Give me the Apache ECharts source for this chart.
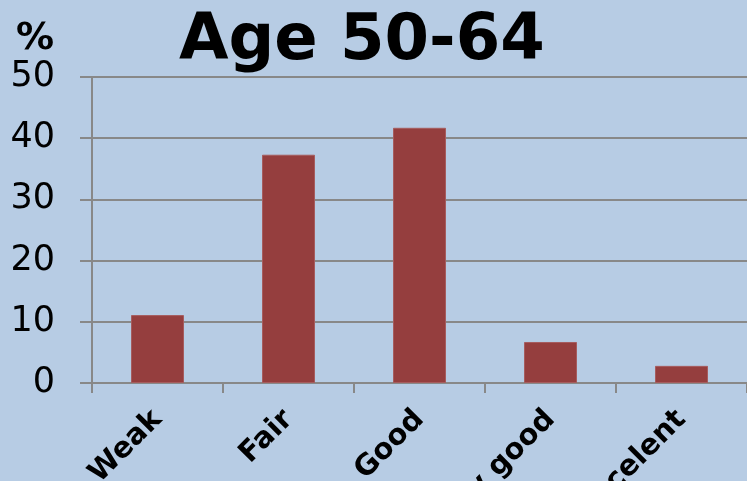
<!DOCTYPE html>
<html>
<head>
<meta charset="utf-8">
<script src="https://cdn.jsdelivr.net/npm/echarts@6/dist/echarts.min.js"></script>
<style>
html,body{margin:0;padding:0;background:#b7cce4;}
#c{width:747px;height:481px;}
</style>
</head>
<body>
<div id="c"></div>
<script>
var titleText = 'Age 50-64';
var unitLabel = '%';
var categories = ['Weak', 'Fair', 'Good', 'Very good', 'Excelent'];
var values = [11.1, 37.3, 41.7, 6.7, 2.8];
var yMin = 0, yMax = 50, yStep = 10;

var chart = echarts.init(document.getElementById('c'), null, {renderer: 'canvas'});
var font = 'DejaVu Sans, Verdana, sans-serif';
chart.setOption({
  backgroundColor: '#b7cce4',
  animation: false,
  title: [{
    text: titleText,
    left: 174,
    top: 5,
    textStyle: {fontFamily: font, fontWeight: 'bold', fontSize: 64, color: '#000'}
  }, {
    text: unitLabel,
    left: 11,
    top: 15,
    textStyle: {fontFamily: font, fontWeight: 'bold', fontSize: 38, color: '#000'}
  }],
  grid: {left: 92, right: 0, top: 77, bottom: 98, containLabel: false, outerBoundsMode: 'none'},
  xAxis: {
    type: 'category',
    data: categories,
    axisLine: {show: true, lineStyle: {color: '#888888', width: 2}},
    axisTick: {show: true, length: 10, alignWithLabel: false, lineStyle: {color: '#888888', width: 2}},
    axisLabel: {interval: 0, rotate: 45, margin: 32, fontFamily: font, fontWeight: 'bold', fontSize: 29, color: '#000'},
    splitLine: {show: false}
  },
  yAxis: {
    type: 'value',
    min: yMin, max: yMax, interval: yStep,
    axisLine: {show: true, lineStyle: {color: '#888888', width: 2}},
    axisTick: {show: true, length: 12, lineStyle: {color: '#888888', width: 2}},
    axisLabel: {margin: 37, fontFamily: font, fontSize: 35, color: '#000'},
    splitLine: {show: true, lineStyle: {color: '#888888', width: 2}}
  },
  series: [{
    type: 'bar',
    data: values,
    barWidth: 53,
    itemStyle: {color: '#953e3e', borderColor: '#a65c5e', borderWidth: 1}
  }]
});
</script>
</body>
</html>
